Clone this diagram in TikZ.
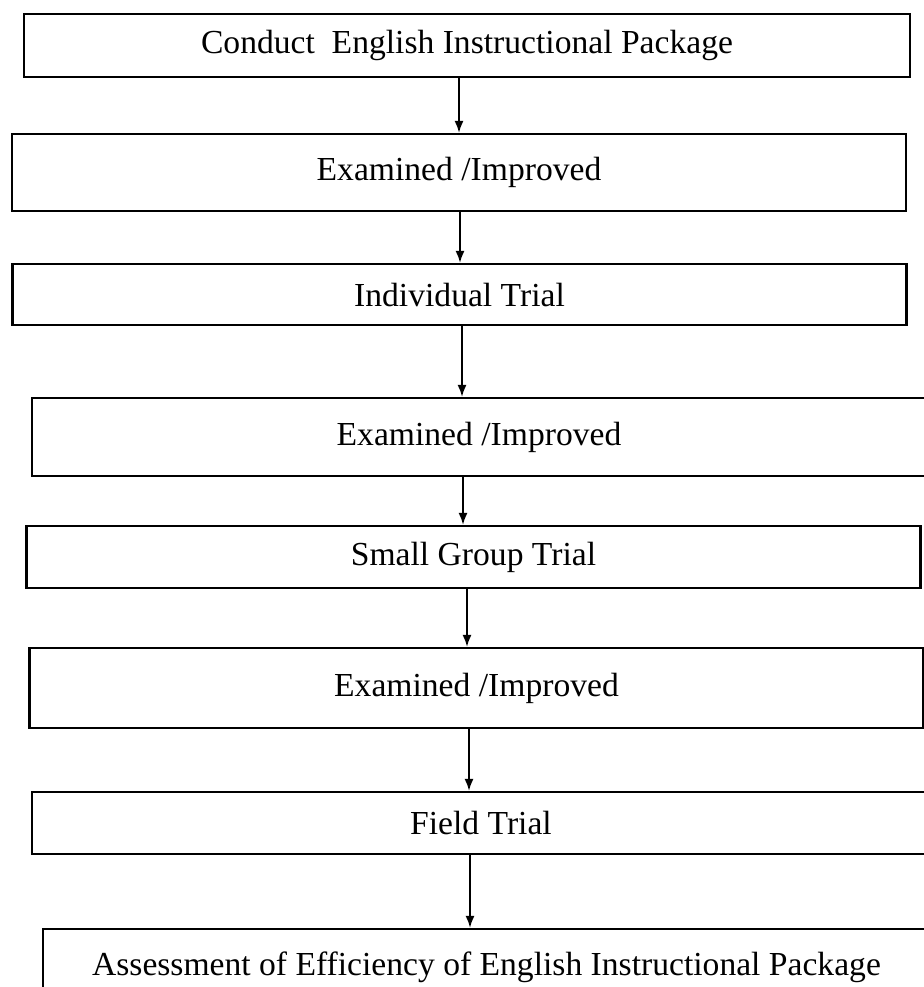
\documentclass[tikz,border=0pt]{standalone}
\usepackage{fontspec}
\setmainfont{Liberation Serif}
\usepackage{tikz}
\usetikzlibrary{positioning, arrows.meta}

\tikzset{
    stage/.style={rectangle, draw, line width=1.1pt, inner sep=0pt, minimum width=447pt, font=\fontsize{16.8}{20}\selectfont}
}

\begin{document}
\begin{tikzpicture}[x=0.5pt, y=-0.5pt, >={Latex[length=6pt, width=4.5pt]}]
            \useasboundingbox[fill=white] (0,0) rectangle (924,987);
            \node[stage, minimum width=443pt, minimum height=31.5pt] (conduct) at (467,45.5) {Conduct\ \ English Instructional Package};
            \node[stage, minimum height=38.5pt] (exam1) at (459,172.5) {Examined /Improved};
            \node[stage, minimum height=30.5pt] (indiv) at (459.5,294.5) {Individual Trial};
            \node[stage, minimum height=39pt] (exam2) at (479,437) {Examined /Improved};
            \node[stage, minimum height=31pt] (small) at (473.5,557) {Small Group Trial};
            \node[stage, minimum height=40pt] (exam3) at (476.5,688) {Examined /Improved};
            \node[stage, minimum width=449pt, minimum height=31pt] (field) at (481,823) {Field Trial};
            \node[stage, minimum width=443.5pt, minimum height=38pt] (assess) at (486.5,967) {Assessment of Efficiency of English Instructional Package};

            \draw[->, line width=0.9pt] ([xshift=-4pt]conduct.south) -- ([xshift=-4pt]conduct.south |- exam1.north);
            \draw[->, line width=0.9pt] ([xshift=0.5pt]exam1.south) -- ([xshift=0.5pt]exam1.south |- indiv.north);
            \draw[->, line width=0.9pt] ([xshift=1.25pt]indiv.south) -- ([xshift=1.25pt]indiv.south |- exam2.north);
            \draw[->, line width=0.9pt] ([xshift=-8pt]exam2.south) -- ([xshift=-8pt]exam2.south |- small.north);
            \draw[->, line width=0.9pt] ([xshift=-3.25pt]small.south) -- ([xshift=-3.25pt]small.south |- exam3.north);
            \draw[->, line width=0.9pt] ([xshift=-3.75pt]exam3.south) -- ([xshift=-3.75pt]exam3.south |- field.north);
            \draw[->, line width=0.9pt] ([xshift=-5.5pt]field.south) -- ([xshift=-5.5pt]field.south |- assess.north);
        \end{tikzpicture}
\end{document}
